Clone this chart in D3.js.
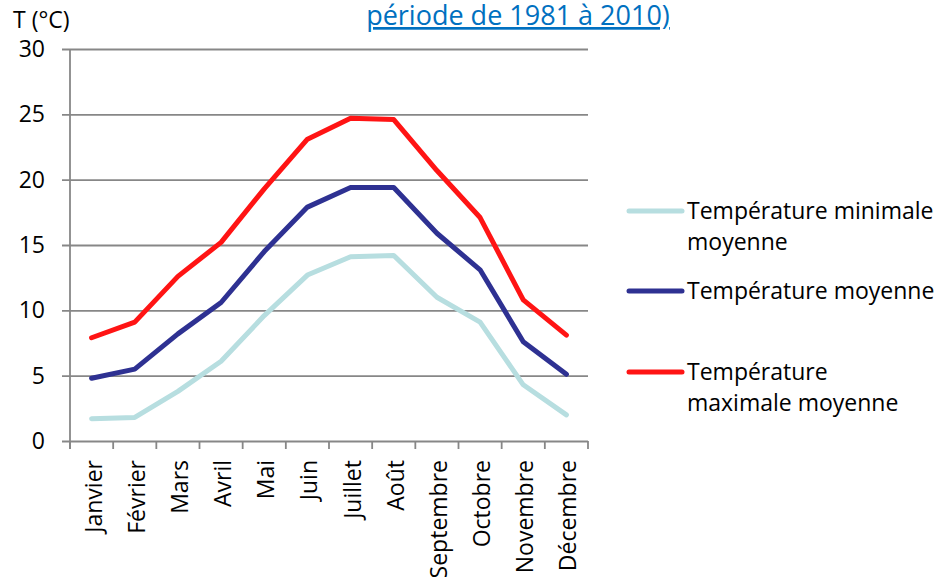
<!DOCTYPE html>
<html>
<head>
<meta charset="utf-8">
<script src="https://cdn.jsdelivr.net/npm/d3@7"></script>
<style>
  body { margin: 0; background: #fff; }
  svg { font-family: "Open Sans", sans-serif; }
</style>
</head>
<body>
<div id="chart"></div>
<script>
// months of the year (x axis)
var mois = ["Janvier", "Février", "Mars", "Avril", "Mai", "Juin", "Juillet",
            "Août", "Septembre", "Octobre", "Novembre", "Décembre"];
// series, in °C
var tMin = [1.7, 1.8, 3.8, 6.1, 9.6, 12.7, 14.1, 14.2, 11.0, 9.1, 4.3, 2.0];
var tMoy = [4.8, 5.5, 8.2, 10.6, 14.5, 17.9, 19.4, 19.4, 15.9, 13.1, 7.6, 5.1];
var tMax = [7.9, 9.1, 12.6, 15.2, 19.3, 23.1, 24.7, 24.6, 20.7, 17.1, 10.8, 8.1];
var yTicks = [0, 5, 10, 15, 20, 25, 30];

var series = [
  { nom: ["Température minimale", "moyenne"], valeurs: tMin, couleur: "#b7dee0", ly: 211 },
  { nom: ["Température moyenne"], valeurs: tMoy, couleur: "#2e3192", ly: 291 },
  { nom: ["Température", "maximale moyenne"], valeurs: tMax, couleur: "#ff1414", ly: 372 }
];

var w = 939, h = 577;
var gris = "#878787";
var svg = d3.select("#chart").append("svg")
  .attr("width", w)
  .attr("height", h);

var x = d3.scaleBand().domain(mois).range([70, 588]);
var y = d3.scaleLinear().domain([0, 30]).range([441, 49]);

// title (only its last line shows)
svg.append("text")
  .attr("x", 518)
  .attr("y", 25)
  .attr("text-anchor", "middle")
  .attr("fill", "#0070c0")
  .attr("font-size", 27)
  .attr("text-decoration", "underline")
  .text("période de 1981 à 2010)");

svg.append("text")
  .attr("x", 13)
  .attr("y", 28)
  .attr("font-size", 23)
  .attr("fill", "#000")
  .text("T (°C)");

// grid lines + y labels
var yAxis = d3.axisLeft(y).tickValues(yTicks).tickSize(-(588 - 70)).tickPadding(25);
var gy = svg.append("g")
  .attr("transform", "translate(70,0)")
  .call(yAxis);
gy.select(".domain").remove();
gy.selectAll(".tick line")
  .attr("x1", -8)
  .attr("stroke", gris)
  .attr("stroke-width", 1.8);
gy.selectAll(".tick text")
  .attr("font-size", 23)
  .attr("font-family", "Open Sans")
  .attr("fill", "#000");

// y axis vertical line
svg.append("line")
  .attr("x1", 70).attr("x2", 70)
  .attr("y1", y(30)).attr("y2", y(0) + 8)
  .attr("stroke", gris)
  .attr("stroke-width", 1.8);

// x axis ticks between categories
var xTicks = mois.map(function(m) { return x(m); }).concat([x.range()[1]]);
svg.selectAll("line.xtick")
  .data(xTicks)
  .enter()
  .append("line")
  .attr("class", "xtick")
  .attr("x1", function(d) { return d; })
  .attr("x2", function(d) { return d; })
  .attr("y1", y(0))
  .attr("y2", y(0) + 8)
  .attr("stroke", gris)
  .attr("stroke-width", 1.8);

// rotated month labels
svg.selectAll("text.mois")
  .data(mois)
  .enter()
  .append("text")
  .attr("class", "mois")
  .attr("transform", function(d) {
    return "translate(" + (x(d) + x.bandwidth() / 2 + 10) + "," + 460 + ") rotate(-90)";
  })
  .attr("text-anchor", "end")
  .attr("font-size", 23)
  .attr("fill", "#000")
  .text(function(d) { return d; });

// lines
var ligne = d3.line()
  .x(function(d, i) { return x(mois[i]) + x.bandwidth() / 2; })
  .y(function(d) { return y(d); });

svg.selectAll("path.serie")
  .data(series)
  .enter()
  .append("path")
  .attr("class", "serie")
  .attr("fill", "none")
  .attr("stroke", function(d) { return d.couleur; })
  .attr("stroke-width", 5)
  .attr("stroke-linecap", "round")
  .attr("stroke-linejoin", "round")
  .attr("d", function(d) { return ligne(d.valeurs); });

// legend
var leg = svg.selectAll("g.leg")
  .data(series)
  .enter()
  .append("g")
  .attr("class", "leg");
leg.append("line")
  .attr("x1", 629).attr("x2", 682)
  .attr("y1", function(d) { return d.ly; })
  .attr("y2", function(d) { return d.ly; })
  .attr("stroke", function(d) { return d.couleur; })
  .attr("stroke-width", 5)
  .attr("stroke-linecap", "round");
leg.append("text")
  .attr("x", 687)
  .attr("y", function(d) { return d.ly + 8; })
  .attr("font-size", 23)
  .attr("fill", "#000")
  .selectAll("tspan")
  .data(function(d) { return d.nom; })
  .enter()
  .append("tspan")
  .attr("x", 687)
  .attr("dy", function(d, i) { return i === 0 ? 0 : 31; })
  .text(function(d) { return d; });
</script>
</body>
</html>
